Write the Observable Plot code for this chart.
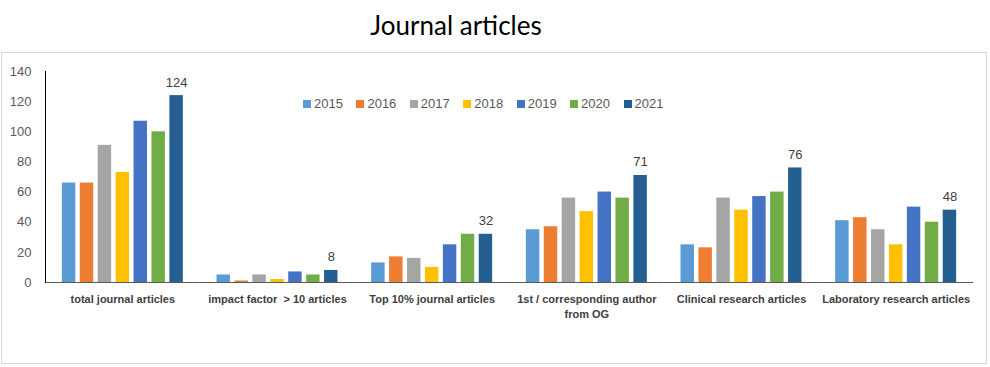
<!DOCTYPE html>
<html>
<head>
<meta charset="utf-8">
<script src="https://cdn.jsdelivr.net/npm/d3@7"></script>
<script src="https://cdn.jsdelivr.net/npm/@observablehq/plot@0.6"></script>
<style>
  html, body { margin: 0; padding: 0; background: #fff; }
  #wrap { position: relative; width: 990px; height: 367px; overflow: hidden; font-family: "Liberation Sans", Arial, sans-serif; }
  #title { position: absolute; left: 0; top: 8px; width: 912px; text-align: center; font-family: Lato, "Liberation Sans", sans-serif; font-size: 26px; color: #000; line-height: 34px; }
  #frame { position: absolute; left: 1px; top: 52px; width: 986px; height: 312px; border: 1px solid #d9d9d9; box-sizing: border-box; pointer-events: none; }
  #chart { position: absolute; left: 0; top: 53px; }
  #legend { position: absolute; left: 303px; top: 95px; display: flex; font-size: 13px; color: #595959; line-height: 18px; }
  #legend .item { display: flex; align-items: center; margin-right: 13.5px; }
  #legend .sw { width: 8px; height: 8px; margin-right: 3px; }
</style>
</head>
<body>
<div id="wrap">
  <div id="title">Journal articles</div>
  <div id="chart"></div>
  <div id="legend"></div>
  <div id="frame"></div>
</div>
<script>
const categories = [
  "total journal articles",
  "impact factor  > 10 articles",
  "Top 10% journal articles",
  "1st / corresponding author from OG",
  "Clinical research articles",
  "Laboratory research articles"
];
const categoryLabels = [
  "total journal articles",
  "impact factor  > 10 articles",
  "Top 10% journal articles",
  "1st / corresponding author\nfrom OG",
  "Clinical research articles",
  "Laboratory research articles"
];
const years = ["2015", "2016", "2017", "2018", "2019", "2020", "2021"];
const colors = ["#5B9BD5", "#ED7D31", "#A5A5A5", "#FFC000", "#4472C4", "#70AD47", "#255E91"];
const v2015 = [66, 5, 13, 35, 25, 41];
const v2016 = [66, 1, 17, 37, 23, 43];
const v2017 = [91, 5, 16, 56, 56, 35];
const v2018 = [73, 2, 10, 47, 48, 25];
const v2019 = [107, 7, 25, 60, 57, 50];
const v2020 = [100, 5, 32, 56, 60, 40];
const v2021 = [124, 8, 32, 71, 76, 48];
const yTicks = [0, 20, 40, 60, 80, 100, 120, 140];
const labeledYear = "2021";

const series = [v2015, v2016, v2017, v2018, v2019, v2020, v2021];
const rows = [];
categories.forEach((c, ci) => {
  years.forEach((y, yi) => rows.push({cat: c, year: y, value: series[yi][ci]}));
});
const labelOf = new Map(categories.map((c, i) => [c, categoryLabels[i]]));

const chart = Plot.plot({
  width: 990,
  height: 314,
  marginTop: 18,
  marginBottom: 85,
  marginLeft: 45,
  marginRight: 17,
  style: {background: "transparent", fontFamily: "'Liberation Sans', Arial, sans-serif"},
  fx: {domain: categories, padding: 0, label: null, axis: null, round: false},
  x: {domain: years, axis: null, paddingInner: 0.25, paddingOuter: 0.94, round: false},
  y: {domain: [0, 140], axis: null},
  color: {domain: years, range: colors},
  marks: [
    Plot.barY(rows, {fx: "cat", x: "year", y: "value", fill: "year"}),
    Plot.ruleY([0], {stroke: "#595959", strokeWidth: 1}),
    Plot.frame({anchor: "left", facetAnchor: "left", stroke: "#000", strokeWidth: 1}),
    Plot.text(rows.filter(d => d.year === labeledYear), {
      fx: "cat", x: "year", y: "value", text: d => String(d.value),
      lineAnchor: "bottom", dy: -9, fontSize: 13, fill: "#404040"
    }),
    Plot.axisY({ticks: yTicks, tickSize: 0, tickPadding: 14, fontSize: 13, color: "#595959", label: null}),
    Plot.axisFx({
      anchor: "bottom", tickSize: 0, tickPadding: 10, label: null,
      tickFormat: d => labelOf.get(d), fontSize: 11, fontWeight: "bold",
      fontFamily: "'Liberation Sans Narrow', 'Liberation Sans', sans-serif",
      color: "#404040", lineHeight: 1.35
    })
  ]
});
document.getElementById("chart").appendChild(chart);

const legend = document.getElementById("legend");
years.forEach((y, i) => {
  const item = document.createElement("div");
  item.className = "item";
  const sw = document.createElement("div");
  sw.className = "sw";
  sw.style.background = colors[i];
  const t = document.createElement("span");
  t.textContent = y;
  item.appendChild(sw);
  item.appendChild(t);
  legend.appendChild(item);
});
</script>
</body>
</html>
